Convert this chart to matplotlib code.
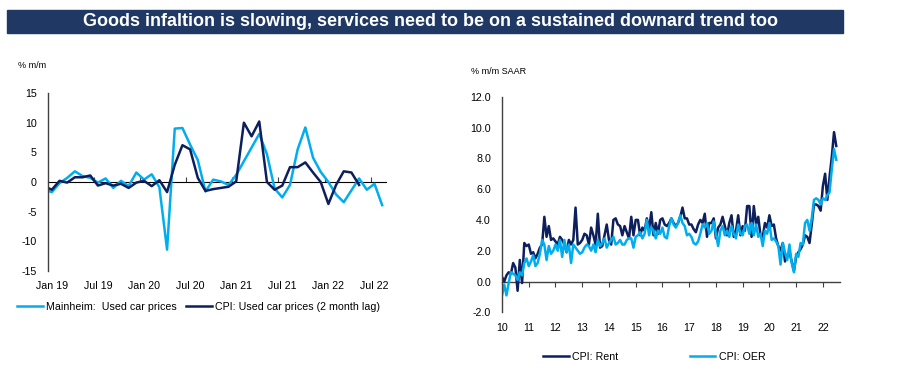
import matplotlib.pyplot as plt
import numpy as np
from matplotlib.patches import Rectangle

plt.rcParams['font.family'] = ['Liberation Sans', 'DejaVu Sans']
plt.rcParams['axes.unicode_minus'] = False

# --- left chart: used car prices, % m/m, monthly Dec 18 .. Aug 22 ---
car_ticks = ['Jan 19', 'Jul 19', 'Jan 20', 'Jul 20', 'Jan 21', 'Jul 21', 'Jan 22', 'Jul 22']
mainheim = [-1.3, -1.7, -0.2, 0.7, 1.8, 1.0, 0.7, -0.1, 0.6, -1.0, 0.2, -0.7, 1.6,
            0.4, 1.3, -0.9, -11.4, 9.0, 9.1, 6.3, 3.7, -1.6, 0.4, 0.1, -0.5,
            1.2, 3.5, 5.8, 8.1, 4.7, -1.1, -2.6, -0.5, 5.5, 9.2, 4.1, 1.7,
            0.0, -2.1, -3.4, -1.4, 0.6, -1.3, -0.3, -3.9]
cpi_cars = [-0.7, -1.3, 0.2, -0.1, 0.8, 0.8, 1.1, -0.6, -0.2, -0.6, -0.3, -1.0, -0.1,
            0.2, -0.7, 0.3, -1.7, 2.9, 6.2, 5.5, 0.7, -1.5, -1.2, -1.0, -0.8,
            0.1, 10.0, 7.7, 10.2, 0.0, -1.3, -0.6, 2.5, 2.5, 3.3, 1.6, 0.0,
            -3.7, -0.5, 1.8, 1.6, -0.5]

# --- right chart: rent and OER, % m/m SAAR, monthly Jan 10 .. Jul 22 ---
rent = [0.3, 0.0, 0.4, 0.6, 0.5, 1.2, 0.9, -0.6, 1.4, -0.1, 2.5, 2.3,
        2.4, 1.8, 1.9, 1.5, 1.8, 2.2, 2.4, 4.2, 2.9, 3.6, 2.7, 2.8,
        2.6, 2.4, 2.9, 2.7, 2.4, 1.9, 2.7, 2.4, 2.7, 4.8, 2.4, 2.5,
        2.7, 3.1, 3.0, 2.4, 3.5, 3.0, 2.4, 4.4, 2.2, 2.3, 3.0, 3.7,
        2.7, 2.4, 4.0, 4.1, 3.7, 3.6, 3.0, 3.6, 3.2, 2.8, 4.2, 3.0,
        4.0, 4.0, 3.0, 3.5, 3.3, 4.1, 3.4, 4.5, 3.0, 3.8, 3.1, 4.0,
        4.1, 3.7, 3.6, 3.8, 4.1, 3.8, 3.6, 3.8, 4.2, 4.8, 4.1, 4.1,
        3.7, 3.7, 3.4, 3.2, 3.7, 4.0, 3.8, 4.4, 2.9, 3.8, 3.8, 4.1,
        2.8, 3.5, 3.7, 4.2, 3.6, 3.0, 3.8, 4.3, 2.9, 3.3, 4.3, 3.0,
        3.6, 3.3, 4.9, 4.9, 2.9, 4.9, 3.7, 4.2, 3.0, 2.9, 3.8, 3.5,
        4.3, 3.6, 3.7, 2.8, 2.3, 2.0, 2.5, 1.3, 1.7, 1.9, 1.3, 0.7,
        1.6, 1.9, 2.1, 2.4, 3.0, 2.9, 2.5, 3.7, 5.0, 5.0, 4.9, 4.6,
        6.2, 7.0, 5.3, 6.8, 8.1, 9.7, 8.8]
oer = [-0.9, -0.2, -0.9, -0.1, 0.6, 0.5, 0.4, 0.1, 0.6, 0.4, 1.2, 1.5,
       1.0, 1.3, 1.7, 1.0, 1.2, 1.8, 2.7, 2.4, 1.4, 2.3, 1.8, 2.0,
       2.4, 2.0, 2.7, 1.6, 2.7, 1.9, 2.4, 1.2, 2.4, 2.2, 2.0, 1.8,
       1.9, 2.2, 2.4, 2.3, 2.0, 2.4, 1.9, 2.7, 2.3, 2.5, 2.8, 2.2,
       2.5, 2.7, 2.9, 2.4, 2.5, 2.7, 2.4, 2.4, 2.7, 2.8, 2.8, 2.2,
       2.9, 3.0, 3.2, 2.8, 3.1, 4.0, 3.0, 3.5, 3.3, 2.8, 3.3, 3.1,
       3.5, 2.9, 2.8, 3.6, 4.1, 3.7, 3.5, 3.8, 4.3, 3.8, 3.6, 3.0,
       3.1, 2.9, 2.5, 2.4, 2.6, 3.1, 3.7, 3.5, 3.8, 3.1, 3.3, 3.9,
       3.1, 2.3, 3.3, 3.6, 3.0, 3.3, 2.9, 3.6, 3.1, 2.8, 3.7, 3.1,
       3.0, 3.6, 3.7, 3.1, 3.8, 3.0, 3.7, 2.9, 3.1, 2.3, 3.3, 3.1,
       3.8, 2.7, 2.8, 2.6, 2.3, 1.1, 2.5, 1.9, 1.4, 2.4, 1.2, 0.6,
       1.8, 1.6, 2.5, 2.4, 3.8, 4.0, 3.3, 4.1, 5.3, 5.4, 5.3, 5.0,
       5.4, 5.3, 5.6, 5.8, 7.3, 8.6, 7.9]
year_labels = ['10', '11', '12', '13', '14', '15', '16', '17', '18', '19', '20', '21', '22']

LIGHT = '#00AEEF'
NAVY = '#0D1F5C'
AXC = '#404040'
FS = 7.7

fig = plt.figure(figsize=(9.04, 3.86), dpi=100)

# title banner
fig.patches.append(Rectangle((7 / 904, 1 - 33 / 386), 836 / 904, 23 / 386,
                             transform=fig.transFigure, color='#1F3864', zorder=0))
fig.text(431 / 904, 1 - 21.5 / 386,
         'Goods infaltion is slowing, services need to be on a sustained downard trend too',
         color='white', fontsize=13, fontweight='bold', ha='center', va='center')

# ---------------- left chart ----------------
ax1 = fig.add_axes([48 / 904, 1 - 271 / 386, 338 / 904, 178 / 386])
k = np.arange(len(mainheim)) - 1
ax1.plot(k, mainheim, color=LIGHT, lw=1.8, label='Mainheim:  Used car prices')
ax1.plot(k[:len(cpi_cars)], cpi_cars, color=NAVY, lw=1.8,
         label='CPI: Used car prices (2 month lag)')
ax1.set_xlim(-0.5, 43.5)
ax1.set_ylim(-15, 15)
ax1.set_yticks(np.arange(-15, 16, 5))
ax1.set_xticks(np.arange(0, 43, 6))
ax1.set_xticklabels(car_ticks)
for s in ['top', 'right', 'bottom']:
    ax1.spines[s].set_visible(False)
ax1.spines['left'].set_color(AXC)
ax1.spines['left'].set_linewidth(1.0)
ax1.tick_params(axis='y', length=0, pad=8, labelsize=FS, colors='black')
ax1.tick_params(axis='x', length=0, pad=7, labelsize=FS, colors='black')
zero1 = ax1.secondary_xaxis(0.5)
zero1.set_xticks(np.arange(5.5, 43, 6))
zero1.set_xticklabels([])
zero1.tick_params(length=3.5, direction='out', color=AXC, width=0.8)
zero1.spines['bottom'].set_color(AXC)
zero1.spines['bottom'].set_linewidth(1.0)
fig.text(18 / 904, 1 - 65 / 386, '% m/m', fontsize=6.5, va='center')
ax1.legend(loc='center left', bbox_to_anchor=(17 / 904, 1 - 307 / 386),
           bbox_transform=fig.transFigure, ncol=2, frameon=False, fontsize=FS,
           handlelength=2.4, handletextpad=0.3, columnspacing=0.9, borderpad=0,
           borderaxespad=0)

# ---------------- right chart ----------------
ax2 = fig.add_axes([502 / 904, 1 - 312.3 / 386, 338 / 904, 215.6 / 386])
t = 10 + np.arange(len(rent)) / 12
ax2.plot(t, rent, color=NAVY, lw=1.8, label='CPI: Rent')
ax2.plot(t, oer, color=LIGHT, lw=1.8, label='CPI: OER')
ax2.set_xlim(10, 22.64)
ax2.set_ylim(-2, 12)
ax2.set_yticks(np.arange(-2, 12.1, 2))
ax2.set_yticklabels([f'{v:.1f}' for v in np.arange(-2, 12.1, 2)])
ax2.set_xticks(np.arange(10, 23))
ax2.set_xticklabels(year_labels)
for s in ['top', 'right', 'bottom']:
    ax2.spines[s].set_visible(False)
ax2.spines['left'].set_color(AXC)
ax2.spines['left'].set_linewidth(1.0)
ax2.tick_params(axis='y', length=0, pad=8, labelsize=FS, colors='black')
ax2.tick_params(axis='x', length=0, pad=8, labelsize=FS, colors='black')
zero2 = ax2.secondary_xaxis(2 / 14)
zero2.set_xticks(np.arange(11, 23))
zero2.set_xticklabels([])
zero2.tick_params(length=3.5, direction='out', color=AXC, width=0.8)
zero2.spines['bottom'].set_color(AXC)
zero2.spines['bottom'].set_linewidth(1.0)
fig.text(471 / 904, 1 - 72 / 386, '% m/m SAAR', fontsize=6.5, va='center')
ax2.legend(loc='center left', bbox_to_anchor=(543 / 904, 1 - 357 / 386),
           bbox_transform=fig.transFigure, ncol=2, frameon=False, fontsize=FS,
           handlelength=2.4, handletextpad=0.3, columnspacing=6.7, borderpad=0,
           borderaxespad=0)

fig.savefig('out.png', dpi=100)
